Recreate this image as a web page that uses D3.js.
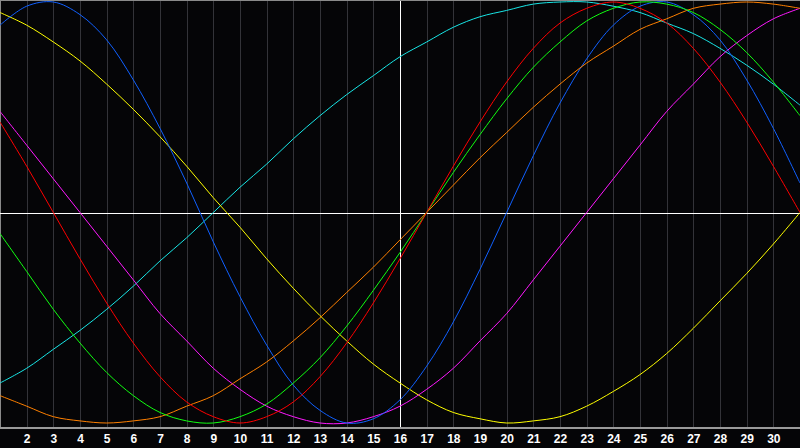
<!DOCTYPE html>
<html>
<head>
<meta charset="utf-8">
<script src="https://cdn.jsdelivr.net/npm/d3@7"></script>
<style>
  body { margin:0; background:#050507; }
  svg { display:block; }
  .lbl text { font-family:"Liberation Sans", Arial, sans-serif; font-weight:bold; font-size:12px; fill:#fff; }
</style>
</head>
<body>
<div id="chart"></div>
<script>
// days of the month shown on the x axis
let days = d3.range(1, 32)
let tickDays = d3.range(2, 31)
let today = 16

// values in percent (-100..100) per day
let physical     = [89,98,100,94,82,63,40,14,-14,-40,-63,-82,-94,-100,-98,-89,-73,-52,-27,0,27,52,73,89,98,100,94,82,63,40,14]
let emotional    = [43,22,0,-22,-43,-62,-78,-90,-97,-100,-97,-90,-78,-62,-43,-22,0,22,43,62,78,90,97,100,97,90,78,62,43,22,0]
let intellectual = [-10,-28,-46,-62,-76,-87,-95,-99,-100,-97,-91,-81,-69,-54,-37,-19,0,19,37,54,69,81,91,97,100,99,95,87,76,62,46]
let intuitive    = [48,32,16,0,-16,-32,-48,-61,-74,-84,-92,-97,-100,-100,-97,-92,-84,-74,-61,-48,-32,-16,0,16,32,48,61,74,84,92,97]
let aesthetic    = [95,89,81,72,61,49,36,22,7,-7,-22,-36,-49,-61,-72,-81,-89,-95,-98,-100,-99,-97,-92,-85,-77,-67,-55,-42,-29,-15,0]
let awareness    = [-87,-92,-97,-99,-100,-99,-97,-92,-87,-79,-71,-61,-50,-38,-26,-13,0,13,26,38,50,61,71,79,87,92,97,99,100,99,97]
let spiritual    = [-81,-74,-65,-56,-46,-35,-23,-12,0,12,23,35,46,56,65,74,81,88,93,96,99,100,100,98,95,90,85,78,70,61,51]

let seriesNames = ['spiritual','aesthetic','intuitive','physical','awareness','intellectual','emotional']
let seriesData  = [spiritual, aesthetic, intuitive, physical, awareness, intellectual, emotional]
let seriesColors = ['#18e6e6','#ffff00','#ff18ff','#1060ff','#ff8000','#10ff10','#ff0000']

let width = 800, height = 448, plotBottom = 427

let xScale = d3.scaleLinear().domain([1,31]).range([0,800])
let yScale = d3.scaleLinear().domain([-100,100]).range([423,2])

let svg = d3.select("#chart").append("svg")
  .attr("width", width)
  .attr("height", height)

svg.append("rect").attr("width", width).attr("height", height).attr("fill", "#050507")

// vertical day grid
let grid = svg.append("g")
  .attr("transform", `translate(0,${plotBottom})`)
  .call(d3.axisBottom(xScale).tickValues(tickDays).tickSize(-plotBottom).tickFormat(""))
grid.select(".domain").remove()
grid.selectAll(".tick line")
  .attr("stroke", d => d === today ? "#ffffff" : "#333338")
  .attr("stroke-width", 1)
  .attr("shape-rendering", "crispEdges")

// frame: top / left border and bottom axis line
svg.append("line").attr("x1",0).attr("x2",width).attr("y1",0.5).attr("y2",0.5)
  .attr("stroke","#8a8a8a").attr("shape-rendering","crispEdges")
svg.append("line").attr("x1",0.5).attr("x2",0.5).attr("y1",0).attr("y2",plotBottom)
  .attr("stroke","#8a8a8a").attr("shape-rendering","crispEdges")
svg.append("rect").attr("x",0).attr("y",plotBottom).attr("width",width).attr("height",2)
  .attr("fill","#9a9a9a")

// zero line
svg.append("line").attr("x1",0).attr("x2",width).attr("y1",yScale(0)+1).attr("y2",yScale(0)+1)
  .attr("stroke","#ffffff").attr("stroke-width",1.5).attr("shape-rendering","crispEdges")

let line = d3.line()
  .x((d,i) => xScale(days[i]))
  .y(d => yScale(d))
  .curve(d3.curveCatmullRom.alpha(0.5))

svg.append("g").selectAll("path")
  .data(seriesData)
  .enter()
  .append("path")
  .attr("class", (d,i) => seriesNames[i])
  .attr("d", d => line(d))
  .attr("fill", "none")
  .attr("stroke", (d,i) => seriesColors[i])
  .attr("stroke-width", 1)

// day labels
let lbl = svg.append("g")
  .attr("class", "lbl")
  .attr("transform", `translate(0,${plotBottom + 2})`)
  .call(d3.axisBottom(xScale).tickValues(tickDays).tickSize(0).tickPadding(4).tickFormat(d3.format("d")))
lbl.select(".domain").remove()
lbl.selectAll("text").attr("dy", "0.85em")
</script>
</body>
</html>
